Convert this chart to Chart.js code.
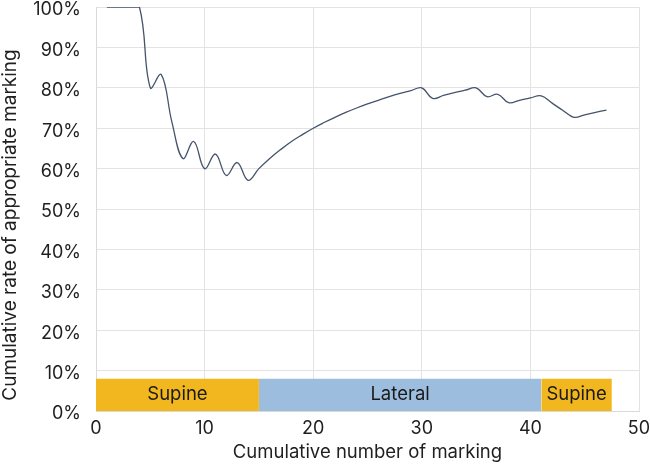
<!DOCTYPE html>
<html>
<head>
<meta charset="utf-8">
<script src="https://cdn.jsdelivr.net/npm/chart.js@4.4.1/dist/chart.umd.min.js"></script>
<style>
  html,body{margin:0;padding:0;background:#fff;}
  #wrap{width:650px;height:464px;position:relative;}
</style>
</head>
<body>
<div id="wrap"><canvas id="c"></canvas></div>
<script>
/* dados */
const markingN = [1,2,3,4,5,6,7,8,9,10,11,12,13,14,15,16,17,18,19,20,21,22,23,24,25,26,27,28,29,30,31,32,33,34,35,36,37,38,39,40,41,42,43,44,45,46,47];
const ratePct = [100,100,100,100,80,83.3,71.4,62.5,66.7,60,63.6,58.3,61.5,57.1,60,62.5,64.7,66.7,68.4,70,71.4,72.7,73.9,75,76,76.9,77.8,78.6,79.3,80,77.4,78.1,78.8,79.4,80,77.8,78.4,76.3,76.9,77.5,78,76.2,74.4,72.7,73.3,73.9,74.5];

// fases de posição (inicio, fim, rótulo)
const phaseStart = [0, 15, 41];
const phaseEnd   = [15, 41, 47.5];
const phaseLabel = ['Supine','Lateral','Supine'];
const phaseColor = ['#F2B71E','#9DBDDE','#F2B71E'];
const phaseHeight = 8;

const xTicksMax = 50;
const yTicksMax = 100;
const yTitle = 'Cumulative rate of appropriate marking';

const FONT = "Inter, 'Liberation Sans', Arial, sans-serif";

const phaseSets = phaseStart.map((s,i)=>({
  type:'line',
  label: phaseLabel[i],
  data:[{x:s,y:phaseHeight},{x:phaseEnd[i],y:phaseHeight}],
  fill:'origin',
  backgroundColor: phaseColor[i],
  borderWidth:0,
  pointRadius:0,
  tension:0,
  order:2
}));

// rótulos dentro das faixas + título do eixo y
const phaseText = {
  id:'phaseText',
  afterDatasetsDraw(chart){
    const {ctx, scales:{x,y}} = chart;
    ctx.save();
    ctx.font = '18.5px ' + FONT;
    ctx.fillStyle = '#1a1a1a';
    ctx.textAlign = 'center';
    ctx.textBaseline = 'middle';
    phaseStart.forEach((s,i)=>{
      const cx = x.getPixelForValue((s+phaseEnd[i])/2);
      const cy = y.getPixelForValue(phaseHeight/2);
      ctx.fillText(phaseLabel[i], cx, cy);
    });
    ctx.restore();
  },
  afterDraw(chart){
    const {ctx, scales:{y}} = chart;
    ctx.save();
    ctx.font = '19px ' + FONT;
    ctx.fillStyle = '#1f1f1f';
    ctx.textAlign = 'center';
    ctx.textBaseline = 'alphabetic';
    ctx.translate(16, (y.top+y.bottom)/2 + 16);
    ctx.rotate(-Math.PI/2);
    ctx.fillText(yTitle, 0, 0);
    ctx.restore();
  }
};

new Chart(document.getElementById('c'),{
  data:{
    datasets:[
      {
        type:'line',
        label:'rate',
        data: markingN.map((n,i)=>({x:n,y:ratePct[i]})),
        borderColor:'#44546A',
        borderWidth:1.3,
        pointRadius:0,
        tension:0.4,
        fill:false,
        order:1
      },
      ...phaseSets
    ]
  },
  options:{
    responsive:true,
    maintainAspectRatio:false,
    animation:false,
    layout:{padding:{left:0,right:11,top:7,bottom:0}},
    plugins:{legend:{display:false},tooltip:{enabled:false}},
    scales:{
      x:{
        type:'linear', min:0, max:xTicksMax,
        ticks:{stepSize:10, color:'#1f1f1f', font:{family:FONT,size:18}, padding:7, maxRotation:0},
        grid:{color:'#E3E3E3', drawTicks:false},
        border:{color:'#D9D9D9'},
        title:{display:true, text:'Cumulative number of marking', color:'#1f1f1f', font:{family:FONT,size:18.5}, padding:{top:4,bottom:0}},
        afterFit(s){ s.height = 53; s.paddingLeft = 0; s.paddingRight = 0; }
      },
      y:{
        type:'linear', min:0, max:yTicksMax,
        ticks:{stepSize:10, color:'#1f1f1f', font:{family:FONT,size:18}, padding:15, labelOffset:3, callback:v=>v+'%'},
        grid:{color:'#E3E3E3', drawTicks:false},
        border:{color:'#D9D9D9'},
        title:{display:false},
        afterFit(s){ s.width = 96; s.paddingTop = 0; s.paddingBottom = 0; }
      }
    }
  },
  plugins:[phaseText]
});
</script>
</body>
</html>
